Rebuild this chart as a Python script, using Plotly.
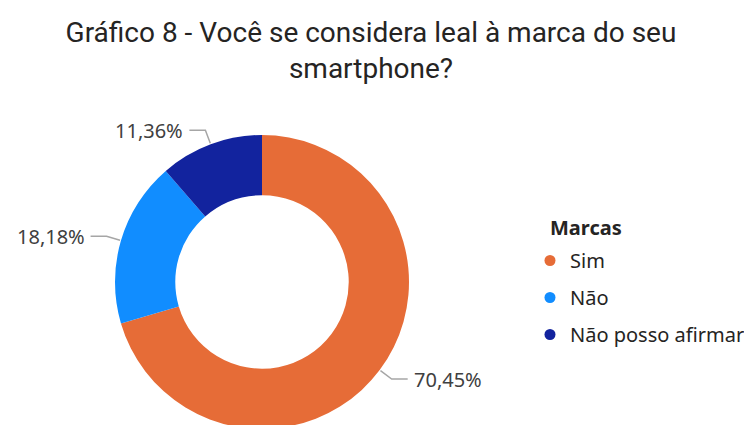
import math
import plotly.graph_objects as go

# ---- data ----
labels = ["Sim", "Não", "Não posso afirmar"]
values = [70.45, 18.18, 11.36]
pct_text = ["70,45%", "18,18%", "11,36%"]
colors = ["#E66C37", "#118DFF", "#12239E"]
title_text = "Gráfico 8 - Você se considera leal à marca do seu<br>smartphone?"
legend_title = "Marcas"

# ---- layout geometry (pixels, in the window) ----
W, H = 752, 425
OFF = 8  # page body margin
cx, cy, R = 262, 282, 147
hole = 0.59


def px(x):
    return (x - OFF) / W


def py(y):
    return 1 - (y - OFF) / H


fig = go.Figure()
fig.add_trace(go.Pie(
    labels=labels, values=values, hole=hole, sort=False,
    direction="clockwise", rotation=0,
    marker=dict(colors=colors, line=dict(width=0)),
    textinfo="none", showlegend=False,
    domain=dict(x=[px(cx - R), px(cx + R)], y=[py(cy + R), py(cy - R)]),
    hovertemplate="%{label}: %{value}%<extra></extra>",
))

# legend entries with circular markers
for lab, col in zip(labels, colors):
    fig.add_trace(go.Scatter(
        x=[None], y=[None], mode="markers", name=lab, legendgroup=lab,
        marker=dict(color=col, size=11, symbol="circle"),
    ))

# leader lines and outside labels computed from the data
total = sum(values)
cum = 0.0
shapes, annotations = [], []
for v, t in zip(values, pct_text):
    theta = 2 * math.pi * (cum + v / 2) / total
    cum += v
    s, c = math.sin(theta), -math.cos(theta)
    x0, y0 = cx + (R + 1) * s, cy + (R + 1) * c
    x1, y1 = cx + (R + 15) * s, cy + (R + 15) * c
    side = 1 if s >= 0 else -1
    x2 = x1 + side * 16
    shapes.append(dict(
        type="path", xref="paper", yref="paper",
        path=f"M {px(x0)},{py(y0)} L {px(x1)},{py(y1)} L {px(x2)},{py(y1)}",
        line=dict(color="#A6A6A6", width=1.5),
    ))
    annotations.append(dict(
        x=px(x2 + side * 4), y=py(y1), xref="paper", yref="paper",
        text=t, showarrow=False, xanchor="left" if side > 0 else "right",
        yanchor="middle", font=dict(family="Noto Sans", size=20, color="#404040"),
    ))

# legend heading
annotations.append(dict(
    x=px(548), y=py(227), xref="paper", yref="paper",
    text=f"<b>{legend_title}</b>", showarrow=False,
    xanchor="left", yanchor="middle",
    font=dict(family="Noto Sans", size=20, color="#252423"),
))

fig.update_layout(
    width=W, height=H, autosize=False,
    margin=dict(l=0, r=0, t=0, b=0),
    paper_bgcolor="white", plot_bgcolor="white",
    title=dict(
        text=title_text, x=px(371), xanchor="center", xref="paper",
        y=py(42), yanchor="top", yref="container",
        font=dict(family="Roboto", size=28, color="#252423"),
    ),
    xaxis=dict(visible=False), yaxis=dict(visible=False),
    legend=dict(
        x=px(530), y=py(241), xanchor="left", yanchor="top",
        font=dict(family="Noto Sans", size=20, color="#252423"),
        tracegroupgap=8, itemwidth=30, bgcolor="rgba(0,0,0,0)",
    ),
    shapes=shapes, annotations=annotations,
    font=dict(family="Noto Sans"),
)

fig.write_html("out.html")
